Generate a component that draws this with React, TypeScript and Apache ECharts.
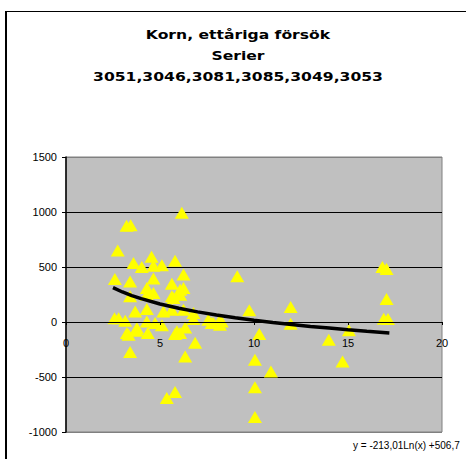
import React, { useEffect, useRef } from "react";
import * as echarts from "echarts";

const titleLines = ["Korn, ettåriga försök", "Serier", "3051,3046,3081,3085,3049,3053"];
const equationText = "y = -213,01Ln(x) +506,7";

const xTicks = [0, 5, 10, 15, 20];
const yTicks = [-1000, -500, 0, 500, 1000, 1500];

const pointX = [
  6.16, 3.22, 3.44, 2.75, 3.59, 4.03, 4.55, 4.65, 5.1, 5.8, 6.25, 2.6, 3.41, 4.65, 5.63, 6.25, 4.3,
  9.11, 16.83, 17.05, 17.05,
  3.41, 4.3, 4.65, 5.63, 6.07, 5.72, 6.07, 3.68, 4.3, 5.18, 5.63, 6.25, 6.78,
  2.58, 2.8, 3.15, 3.77, 4.35, 4.3, 4.74, 5.1, 5.8, 6.07, 6.34, 5.9, 3.24, 3.77,
  6.34, 6.87, 6.78, 7.57, 7.84, 8.19, 8.28, 7.75, 8.19, 3.41, 3.33, 5.36, 5.8,
  9.75, 11.95, 11.95, 10.28, 13.98, 15.05, 10.05, 10.9, 10.05, 10.05, 14.71, 17.13, 16.9,
];
const pointY = [
  994, 875, 880, 650, 536, 500, 594, 512, 515, 556, 432, 391, 369, 395, 348, 309, 309,
  415, 500, 482, 209,
  233, 248, 264, 233, 294, 218, 248, 96, 118, 96, 112, 112, 82,
  35, 35, 12, -55, -100, 5, -9, -30, -109, -100, -50, -85, -100, -80,
  -313, -188, 27, 21, -9, 21, 5, -9, -25, -272, -115, -690, -636,
  106, 136, -15, -109, -161, -76, -343, -449, -594, -864, -358, 27, 30,
];

const trendX = [2.5, 3, 3.5, 4, 5, 6, 7, 8, 9, 10, 11, 12, 13, 14, 15, 16, 17.2];
const trendY = [312, 273, 240, 212, 164, 125, 92, 64, 39, 16, -4, -23, -40, -55, -70, -84, -99];

export default function App() {
  const ref = useRef<HTMLDivElement>(null);
  useEffect(() => {
    document.body.style.margin = "0";
    if (!ref.current) return;
    const chart = echarts.init(ref.current, null, { renderer: "svg" });
    const scatterData = pointX.map((x, i) => [x, pointY[i]]);
    const trendData = trendX.map((x, i) => [x, trendY[i]]);
    const gridTop = 157;
    const gridBottom = 27;
    const plotH = 459 - gridTop - gridBottom;
    const yMin = yTicks[0];
    const yMax = yTicks[yTicks.length - 1];
    const zeroOffset = -plotH * (0 - yMin) / (yMax - yMin);
    chart.setOption({
      animation: false,
      backgroundColor: "#FFFFFF",
      grid: {
        left: 66,
        right: 24,
        top: gridTop,
        bottom: gridBottom,
        show: true,
        backgroundColor: "#C0C0C0",
        borderColor: "#808080",
        borderWidth: 1,
      },
      xAxis: {
        type: "value",
        min: xTicks[0],
        max: xTicks[xTicks.length - 1],
        interval: 5,
        position: "bottom",
        offset: zeroOffset,
        z: 10,
        axisLine: { show: true, onZero: false, lineStyle: { color: "#000", width: 1 } },
        axisTick: { show: true, inside: false, length: 3, lineStyle: { color: "#000" } },
        axisLabel: { margin: 15, color: "#000", fontSize: 11, fontFamily: "Liberation Sans, Arial, sans-serif" },
        splitLine: { show: false },
      },
      yAxis: {
        type: "value",
        min: yMin,
        max: yMax,
        interval: 500,
        axisLine: { show: true, onZero: false, lineStyle: { color: "#000", width: 1.5 } },
        axisTick: { show: true, inside: false, length: 4, lineStyle: { color: "#000" } },
        axisLabel: {
          margin: 9,
          color: "#000",
          fontSize: 11,
          fontFamily: "Liberation Sans, Arial, sans-serif",
          formatter: (v: number) => String(v),
        },
        splitLine: {
          show: true,
          lineStyle: { color: ["#808080", "#000", "#000", "#000", "#000", "#808080"], width: 1 },
        },
      },
      graphic: [
        { type: "line", shape: { x1: 6, y1: 11.5, x2: 470, y2: 11.5 }, style: { stroke: "#000", lineWidth: 1 } },
        { type: "line", shape: { x1: 6, y1: 11, x2: 6, y2: 470 }, style: { stroke: "#000", lineWidth: 2 } },
        ...titleLines.map((t, i) => ({
          type: "text",
          x: 238,
          y: [35, 56, 77][i],
          scaleX: 1.3,
          style: {
            text: t,
            fill: "#000",
            font: "bold 12px 'DejaVu Sans', sans-serif",
            textAlign: "center",
            textVerticalAlign: "middle",
          },
        })),
        {
          type: "text",
          x: 353,
          y: 445,
          style: {
            text: equationText,
            fill: "#000",
            font: "10px 'Liberation Sans', Arial, sans-serif",
            textAlign: "left",
            textVerticalAlign: "middle",
          },
        },
      ],
      series: [
        {
          type: "scatter",
          data: scatterData,
          symbol: "triangle",
          symbolSize: [14, 12],
          itemStyle: { color: "#FFFF00", opacity: 1 },
          z: 2,
        },
        {
          type: "line",
          data: trendData,
          showSymbol: false,
          smooth: false,
          lineStyle: { color: "#000", width: 3.5 },
          z: 3,
        },
      ],
    });
    return () => chart.dispose();
  }, []);
  return <div ref={ref} style={{ width: 466, height: 459 }} />;
}
